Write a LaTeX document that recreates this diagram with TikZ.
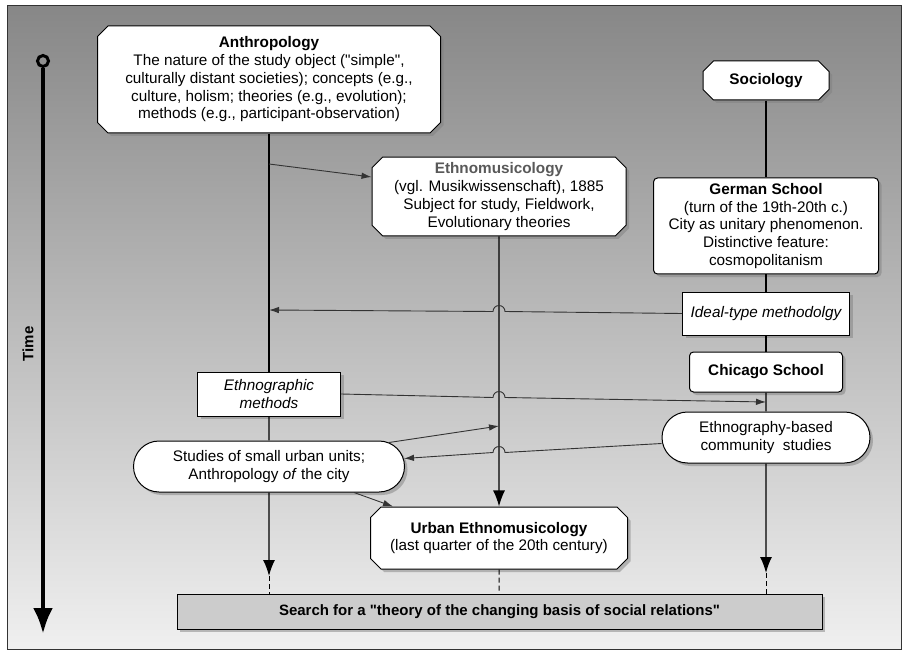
\documentclass[tikz,border=0pt]{standalone}
\usepackage{fontspec}
\setmainfont{Liberation Sans}
\usepackage{tikz}
\usetikzlibrary{shapes,arrows,arrows.meta,positioning,calc,shadows}

\begin{document}
\begin{tikzpicture}[x=1pt, y=-1pt, >={Latex[length=10pt,width=6.5pt]},
  font=\fontsize{15.3}{17.75}\selectfont,
  box/.style={draw, fill=white, align=center, inner sep=2pt, line width=1pt,
    drop shadow={shadow xshift=3pt, shadow yshift=-3pt, opacity=0.5}},
  cbox/.style={box, chamfered rectangle, chamfered rectangle xsep=7pt},
  rbox/.style={box, rounded corners=4pt},
  pbox/.style={box, rounded rectangle},
  link/.style={line width=1.4pt},
  feed/.style={->, line width=0.9pt, draw=black!80},
  down/.style={line width=1.4pt, -{Latex[length=16pt,width=12pt]}},
  tail/.style={line width=1pt, dash pattern=on 5pt off 3pt}]
\useasboundingbox (0,0) rectangle (907,652);
\shade[top color=black!47, bottom color=black!6, draw=black!80, line width=1pt] (7,6) rectangle (901,649);

\node[circle, draw, line width=3pt, minimum size=11pt, inner sep=0pt] (start) at (43,61) {};
\coordinate (finish) at (43,634);
\draw[line width=4.5pt, -{Latex[length=26pt,width=20pt]}] (start) -- (finish);
\node[rotate=90, font=\bfseries\fontsize{15}{17}\selectfont] (time) at (28,344) {Time};

\node[cbox, minimum width=343pt, minimum height=107pt] (anthro) at (269,79.5)
  {\textbf{Anthropology}\\The nature of the study object (\textquotedbl simple\textquotedbl,\\culturally distant societies); concepts (e.g.,\\culture, holism; theories (e.g., evolution);\\methods (e.g., participant-observation)};
\node[cbox, minimum width=254pt, minimum height=77pt] (ethno) at (499,196.5)
  {\textcolor{black!65}{\textbf{Ethnomusicology}}\\(vgl. Musikwissenschaft), 1885\\Subject for study, Fieldwork,\\Evolutionary theories};
\node[cbox, minimum width=126pt, minimum height=39pt] (socio) at (766,80.5) {\textbf{Sociology}};
\node[rbox, minimum width=225pt, minimum height=96pt] (german) at (766,226)
  {\textbf{German School}\\(turn of the 19th-20th c.)\\City as unitary phenomenon.\\Distinctive feature:\\cosmopolitanism};
\node[box, minimum width=167pt, minimum height=43pt] (ideal) at (766,313.5) {\itshape Ideal-type methodolgy};
\node[rbox, minimum width=153pt, minimum height=40pt] (chicago) at (766,372) {\textbf{Chicago School}};
\node[pbox, minimum width=212pt, minimum height=51pt] (commun) at (766,437.5) {Ethnography-based\\community\ \ studies};
\node[box, minimum width=143pt, minimum height=44pt, font=\itshape\fontsize{15.3}{17.75}\selectfont] (meth) at (269,394) {Ethnographic\\methods};
\node[pbox, minimum width=275pt, minimum height=51pt] (studies) at (269,466.5) {Studies of small urban units;\\Anthropology \emph{of} the city};
\node[cbox, minimum width=257pt, minimum height=62pt] (urban) at (499,538)
  {\textbf{Urban Ethnomusicology}\\(last quarter of the 20th century)};
\node[box, fill=black!20, minimum width=645pt, minimum height=35pt, font=\bfseries\fontsize{15}{17}\selectfont] (search) at (499.5,611.5)
  {Search for a \textquotedbl theory of the changing basis of social relations\textquotedbl};

\coordinate (tipA) at (269,576);
\coordinate (tipC) at (766,573);
\coordinate (e1) at (269,164);
\coordinate (a2) at (269,310);
\coordinate (c1) at (766,402);
\coordinate (b1) at (499,426);

\draw[link] (anthro) -- (meth);
\draw[link] (meth) -- (studies);
\draw[down] (studies) -- (tipA);
\draw[tail] (tipA) -- (tipA |- search.north);
\draw[down] (ethno) -- (urban);
\draw[tail] (urban) -- (urban.south |- search.north);
\draw[link] (socio) -- (german);
\draw[link] (german) -- (ideal);
\draw[link] (ideal) -- (chicago);
\draw[link] (chicago) -- (commun);
\draw[down] (commun) -- (tipC);
\draw[tail] (tipC) -- (tipC |- search.north);

\draw[feed] (e1) -- ([yshift=19.5pt]ethno.west);
\draw[feed] (ideal.west) -- (505,311.5) arc[start angle=0, end angle=180, radius=6pt] -- (a2);
\draw[feed] (meth.east) -- (493,397.5) arc[start angle=180, end angle=0, radius=6pt] -- (c1);
\draw[feed] ([xshift=120pt,yshift=-2pt]studies.north) -- (b1);
\draw[feed] ([yshift=-6pt]commun.west) -- (505,452.5) arc[start angle=0, end angle=180, radius=6pt] -- ([xshift=-1pt,yshift=8pt]studies.east);
\draw[feed] ([xshift=85pt]studies.south) -- ([xshift=-106pt]urban.north);
\end{tikzpicture}
\end{document}
